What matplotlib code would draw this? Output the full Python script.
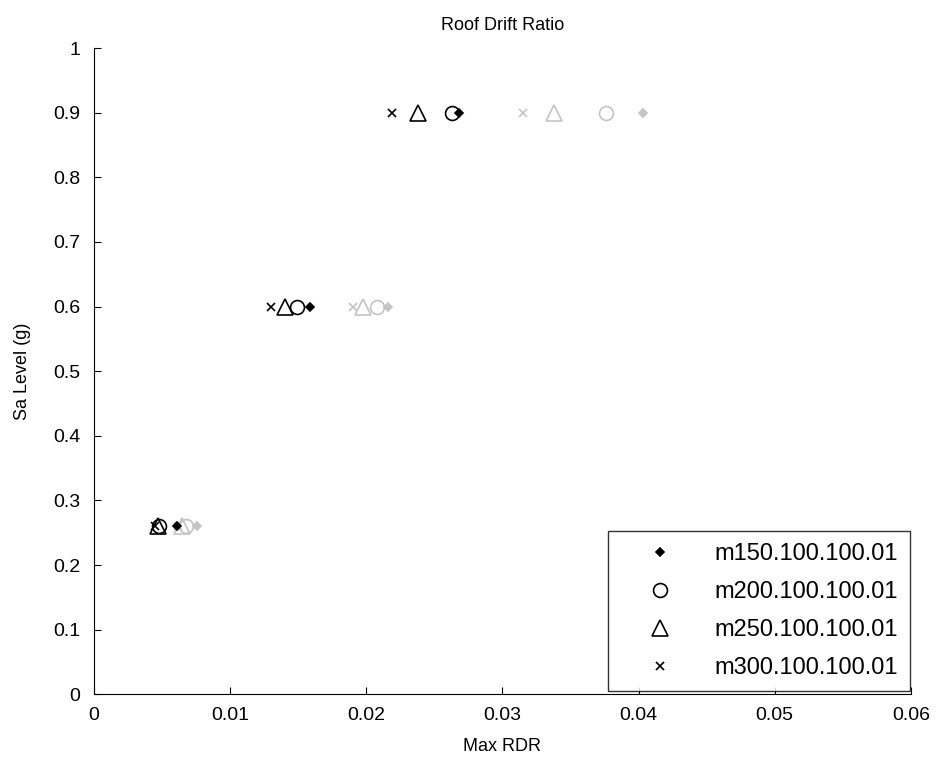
import matplotlib
matplotlib.use("Agg")
import matplotlib.pyplot as plt

plt.rcParams['font.family'] = ['Liberation Sans', 'DejaVu Sans']

sa_levels = [0.26, 0.6, 0.9]
series_names = ["m150.100.100.01", "m200.100.100.01", "m250.100.100.01", "m300.100.100.01"]

# max roof drift per Sa level, first set (black)
rdr_dark = {
    "m150.100.100.01": [0.0061, 0.0159, 0.0268],
    "m200.100.100.01": [0.0048, 0.0149, 0.0263],
    "m250.100.100.01": [0.0047, 0.0140, 0.0238],
    "m300.100.100.01": [0.0045, 0.0130, 0.0219],
}
# second set (grey)
rdr_light = {
    "m150.100.100.01": [0.0076, 0.0216, 0.0403],
    "m200.100.100.01": [0.0068, 0.0208, 0.0376],
    "m250.100.100.01": [0.0065, 0.0198, 0.0338],
    "m300.100.100.01": [0.0062, 0.0190, 0.0315],
}

styles = {
    "m150.100.100.01": dict(marker="D", ms=4, fill=True),
    "m200.100.100.01": dict(marker="o", ms=10, fill=False),
    "m250.100.100.01": dict(marker="^", ms=11, fill=False),
    "m300.100.100.01": dict(marker="x", ms=6, fill=False),
}

fig = plt.figure(figsize=(9.39, 7.63), dpi=100)
ax = fig.add_axes([0.100, 0.090, 0.870, 0.847])

def draw(data, color, labelled):
    for name in series_names:
        st = styles[name]
        face = color if st["fill"] else "none"
        ax.plot(data[name], sa_levels, linestyle="none", marker=st["marker"],
                markersize=st["ms"], markerfacecolor=face, markeredgecolor=color,
                markeredgewidth=1.2, label=name if labelled else None)

draw(rdr_light, "#c4c4c4", False)
draw(rdr_dark, "black", True)

ax.set_xlim(0, 0.06)
ax.set_ylim(0, 1)
ax.set_xticks([0, 0.01, 0.02, 0.03, 0.04, 0.05, 0.06])
ax.set_xticklabels(["0", "0.01", "0.02", "0.03", "0.04", "0.05", "0.06"])
ax.set_yticks([i / 10 for i in range(11)])
ax.set_yticklabels(["0"] + ["%.1f" % (i / 10) for i in range(1, 10)] + ["1"])
ax.tick_params(direction="in", length=5, labelsize=14, top=False, right=False)
ax.tick_params(axis="y", pad=10)
ax.tick_params(axis="x", pad=9)
for side in ["top", "right"]:
    ax.spines[side].set_visible(False)
ax.set_xlabel("Max RDR", fontsize=13, labelpad=10)
ax.set_ylabel("Sa Level (g)", fontsize=13, labelpad=16)
ax.set_title("Roof Drift Ratio", fontsize=13, pad=13)

leg = ax.legend(loc="lower right", bbox_to_anchor=(0.999, 0.005), fontsize=17,
                fancybox=False, edgecolor="black", borderaxespad=0.0,
                handletextpad=0.6, labelspacing=0.68, handlelength=3.4,
                borderpad=0.5)
leg.get_frame().set_linewidth(1.0)

fig.savefig("out.png", dpi=100)
